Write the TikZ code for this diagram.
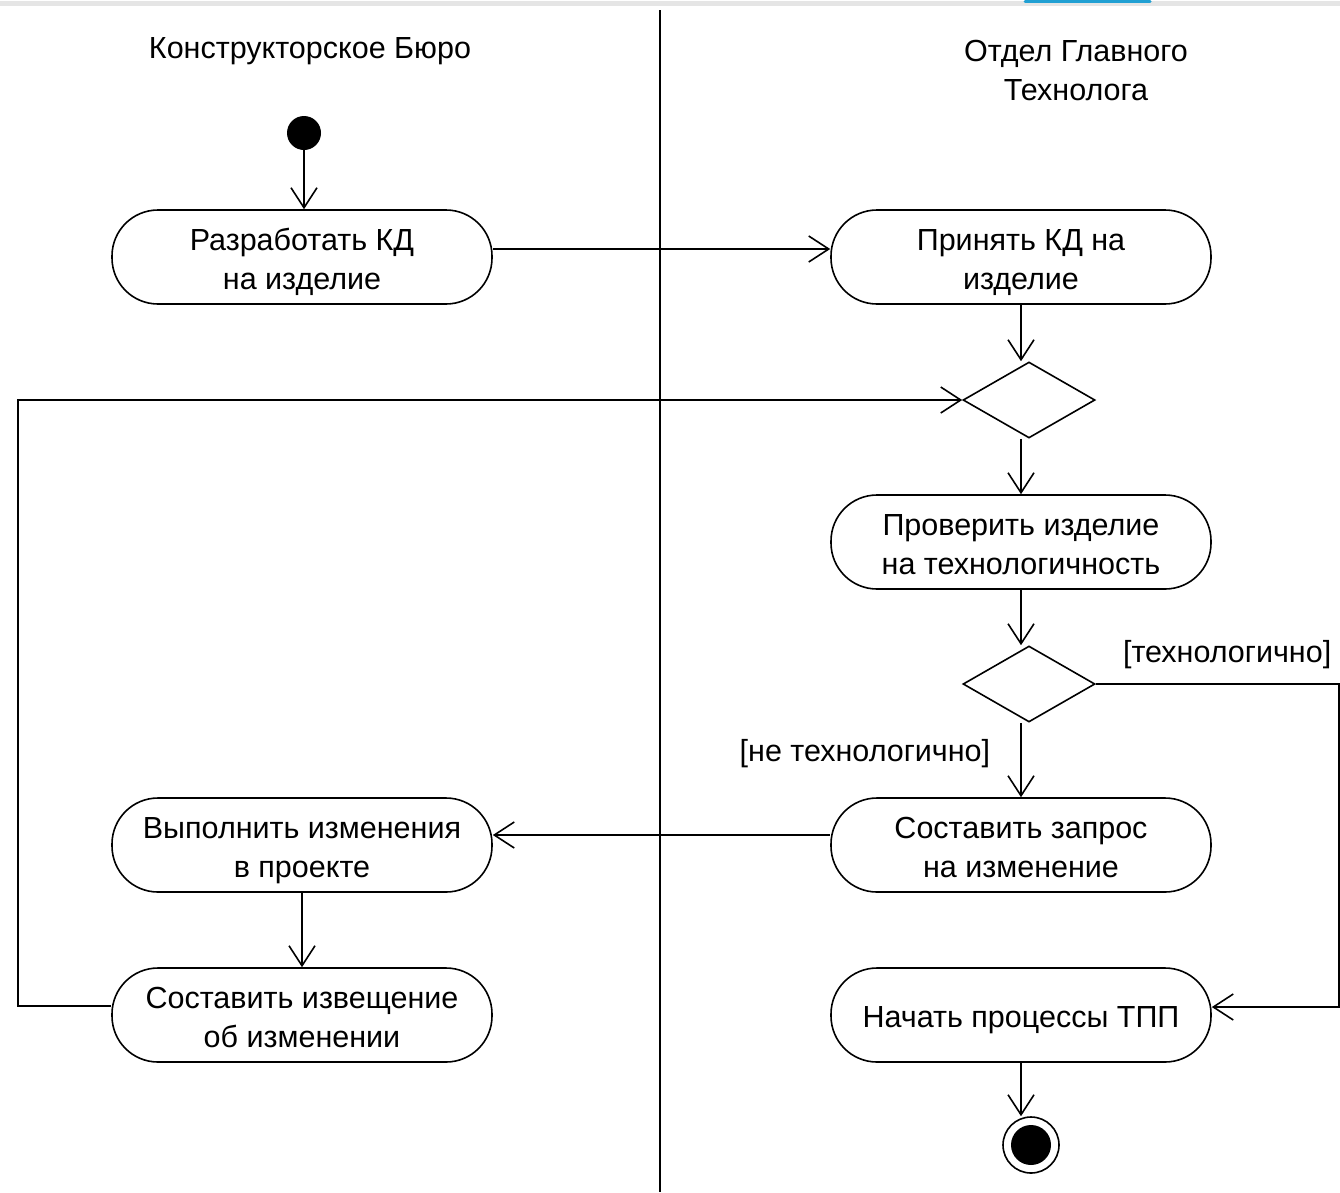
\documentclass[tikz,border=0pt]{standalone}
\usepackage{fontspec}
\setmainfont{Liberation Sans}
\usetikzlibrary{arrows.meta,shapes.geometric}
\newcommand\acttxt[1]{\raisebox{-5pt}[\height][\depth]{\begin{tabular}{@{}c@{}}#1\end{tabular}}}
\begin{document}
\begin{tikzpicture}[x=1pt,y=-1pt,
  every node/.style={font=\fontsize{30.5}{39}\selectfont, text=black},
  act/.style={draw, line width=1.6pt, rounded corners=46pt, minimum width=380pt, minimum height=94pt, align=center, inner sep=0pt},
  dec/.style={draw, line width=1.6pt, diamond, minimum width=132pt, minimum height=76pt, inner sep=0pt, aspect=1.74},
  flow/.style={line width=1.6pt, -{Straight Barb[length=20pt,width=26pt,line width=1.6pt]}},
  plain/.style={line width=1.6pt},
  lbl/.style={inner sep=0pt, anchor=center}
]
\useasboundingbox[fill=white] (0,0) rectangle (1340,1192);
% faint top border and cyan accent
\draw[gray!20, line width=5pt] (0,3) -- (1340,3);
\draw[cyan!70!teal, line width=3pt, line cap=round] (1025,1) -- (1150,1);
% lane separator
\draw[plain] (660,10) -- (660,1192);
% lane titles
\node[lbl] (t1) at (310,51) {Конструкторское Бюро};
\node[lbl, align=center] (t2) at (1076,70) {Отдел Главного\\Технолога};
% start
\node[circle, fill=black, minimum size=34pt, inner sep=0pt] (start) at (304,133) {};
% activities
\node[act] (a1) at (302,257) {\acttxt{Разработать КД\\на изделие}};
\node[act] (a2) at (1021,257) {\acttxt{Принять КД на\\изделие}};
\node[dec] (d1) at (1029,400) {};
\node[act] (a3) at (1021,542) {\acttxt{Проверить изделие\\на технологичность}};
\node[dec] (d2) at (1029,684) {};
\node[act] (a4) at (1021,845) {\acttxt{Составить запрос\\на изменение}};
\node[act] (a6) at (302,845) {\acttxt{Выполнить изменения\\в проекте}};
\node[act] (a7) at (302,1015) {\acttxt{Составить извещение\\об изменении}};
\node[act] (a5) at (1021,1015) {\acttxt{Начать процессы ТПП}};
% end
\node[circle, draw, line width=1.6pt, minimum size=56pt, inner sep=0pt] (fin) at (1031,1145) {};
\node[circle, fill=black, minimum size=40pt, inner sep=0pt] (finin) at (fin.center) {};
% helper coordinates
\coordinate (loopA) at (18,1006);
\coordinate (loopB) at (18,400);
\coordinate (rA) at (1339,684);
\coordinate (rB) at (1339,1007);
% connectors
\draw[flow] (start) -- (start |- a1.north);
\draw[flow] ([yshift=8pt]a1.east) -- ([yshift=8pt]a2.west);
\draw[flow] (a2.south) -- (a2.south |- d1.north);
\draw[flow] (a2.south |- d1.south) -- (a3.north);
\draw[flow] (a3.south) -- (a3.south |- d2.north);
\draw[flow] (a3.south |- d2.south) -- (a4.north)
  node[lbl, pos=0.42, left=30pt] (l1) {[не технологично]};
\draw[flow] ([yshift=10pt]a4.west) -- ([yshift=10pt]a6.east);
\draw[flow] (a6.south) -- (a7.north);
\draw[flow] ([yshift=9pt]a7.west) -- (loopA) -- (loopB) -- (d1.west);
\draw[flow] (d2.east) -- (rA)
  node[lbl, pos=0.54, above=14pt] (l2) {[технологично]} -- (rB) -- ([yshift=8pt]a5.east);
\draw[flow] (a5.south) -- (a5.south |- fin.north);
\end{tikzpicture}
\end{document}
